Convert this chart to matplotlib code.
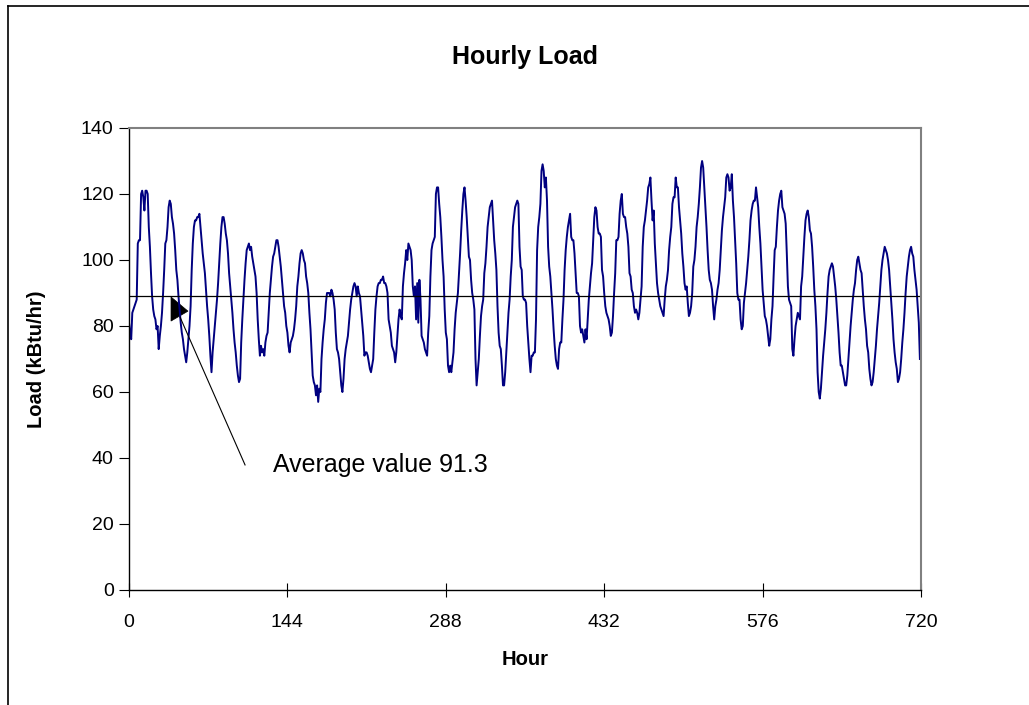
import numpy as np
import matplotlib
matplotlib.use("Agg")
import matplotlib.pyplot as plt
from matplotlib.lines import Line2D
from matplotlib.patches import Polygon

plt.rcParams['font.family'] = ['Liberation Sans', 'DejaVu Sans']

# hourly load (kBtu/hr), one row per day
day_loads = [
    [81, 78, 76, 84, 85, 86, 87, 88, 105, 106, 106, 120, 121, 119, 115, 121, 121, 120, 110, 104, 96, 89, 85, 83],
    [82, 79, 80, 73, 77, 80, 84, 90, 97, 105, 106, 110, 116, 118, 117, 113, 111, 108, 103, 97, 94, 89, 85, 81],
    [78, 76, 73, 71, 69, 72, 76, 80, 86, 97, 105, 110, 112, 112, 113, 113, 114, 110, 106, 102, 99, 96, 91, 86],
    [82, 77, 71, 66, 72, 76, 80, 84, 88, 93, 99, 105, 110, 113, 113, 111, 108, 106, 102, 96, 92, 88, 84, 79],
    [75, 72, 68, 65, 63, 64, 75, 82, 88, 94, 99, 103, 104, 105, 103, 104, 101, 99, 97, 95, 90, 82, 76, 71],
    [74, 72, 73, 71, 75, 77, 78, 84, 90, 94, 98, 101, 102, 104, 106, 106, 104, 101, 98, 94, 90, 86, 84, 80],
    [78, 74, 72, 75, 76, 77, 79, 82, 86, 92, 95, 99, 102, 103, 102, 100, 99, 95, 93, 90, 84, 79, 72, 65],
    [63, 62, 59, 62, 57, 61, 60, 70, 75, 79, 82, 87, 90, 90, 90, 89, 91, 90, 88, 85, 78, 73, 72, 70],
    [66, 62, 60, 64, 70, 73, 75, 77, 81, 85, 88, 90, 92, 93, 92, 89, 92, 90, 89, 85, 81, 77, 71, 72],
    [72, 71, 69, 67, 66, 68, 70, 78, 85, 89, 92, 93, 93, 94, 94, 95, 93, 93, 92, 90, 82, 80, 78, 74],
    [73, 72, 69, 72, 77, 82, 85, 83, 82, 92, 96, 99, 103, 100, 105, 104, 103, 100, 92, 89, 92, 82, 93, 81],
    [94, 88, 77, 76, 75, 73, 72, 71, 78, 83, 95, 103, 105, 106, 107, 120, 122, 122, 117, 113, 107, 100, 95, 85],
    [78, 76, 68, 66, 68, 66, 69, 72, 79, 84, 87, 90, 96, 102, 109, 115, 120, 122, 118, 113, 107, 101, 100, 94],
    [90, 88, 85, 70, 62, 66, 70, 77, 83, 86, 88, 96, 99, 104, 110, 113, 116, 117, 118, 112, 106, 102, 97, 86],
    [78, 74, 73, 68, 62, 62, 66, 72, 78, 84, 88, 95, 100, 110, 113, 116, 117, 118, 117, 104, 98, 97, 89, 88],
    [88, 87, 80, 75, 70, 66, 71, 71, 72, 72, 82, 103, 110, 113, 117, 127, 129, 127, 122, 125, 118, 104, 98, 95],
    [90, 85, 79, 74, 70, 68, 67, 73, 75, 75, 82, 88, 97, 103, 107, 110, 112, 114, 107, 106, 106, 102, 96, 90],
    [90, 89, 80, 78, 79, 77, 75, 79, 76, 82, 88, 92, 96, 99, 106, 113, 116, 115, 110, 108, 108, 107, 97, 95],
    [90, 86, 84, 83, 82, 80, 77, 78, 83, 90, 96, 106, 106, 107, 114, 118, 120, 114, 113, 113, 110, 108, 104, 96],
    [95, 91, 90, 86, 84, 85, 84, 82, 84, 88, 92, 104, 110, 112, 115, 118, 122, 123, 125, 118, 112, 115, 105, 99],
    [93, 90, 88, 86, 85, 84, 83, 88, 92, 94, 97, 103, 107, 110, 117, 119, 119, 125, 122, 122, 116, 112, 108, 102],
    [98, 93, 91, 92, 87, 83, 84, 86, 90, 98, 100, 104, 110, 113, 117, 122, 128, 130, 128, 122, 116, 110, 103, 97],
    [94, 93, 91, 86, 82, 86, 88, 91, 93, 97, 103, 109, 113, 116, 119, 125, 126, 125, 121, 122, 126, 118, 113, 106],
    [99, 90, 88, 88, 82, 79, 80, 87, 90, 93, 97, 101, 106, 112, 115, 117, 118, 118, 122, 119, 116, 110, 105, 98],
    [91, 87, 83, 82, 80, 77, 74, 76, 82, 86, 95, 103, 104, 110, 115, 118, 120, 121, 116, 115, 114, 111, 102, 92],
    [88, 87, 86, 73, 71, 76, 80, 82, 84, 83, 82, 92, 95, 101, 107, 112, 114, 115, 113, 109, 108, 104, 98, 91],
    [86, 79, 66, 60, 58, 61, 66, 71, 75, 79, 84, 90, 95, 97, 98, 99, 98, 95, 92, 88, 83, 78, 72, 68],
    [68, 66, 64, 62, 62, 65, 70, 75, 80, 84, 88, 91, 93, 97, 100, 101, 99, 97, 96, 91, 86, 82, 79, 74],
    [72, 67, 64, 62, 63, 66, 70, 74, 79, 83, 87, 92, 97, 100, 102, 104, 103, 102, 100, 97, 92, 87, 82, 76],
    [72, 69, 67, 63, 64, 66, 70, 75, 79, 84, 90, 95, 98, 101, 103, 104, 102, 101, 97, 94, 91, 86, 81, 70],
]
load = np.array(day_loads, dtype=float).ravel()
hours = np.arange(len(load))

avg_line = 89.1
avg_text = "Average value 91.3"
x_ticks = [0, 144, 288, 432, 576, 720]
y_ticks = [0, 20, 40, 60, 80, 100, 120, 140]

W, H = 1029, 705
fig = plt.figure(figsize=(W / 100, H / 100), dpi=100)
ax = fig.add_axes([129 / W, (H - 590) / H, 792 / W, 462 / H])

ax.plot(hours, load, color='#000080', lw=1.4)
ax.axhline(avg_line, color='black', lw=0.9)

ax.set_xlim(0, 720)
ax.set_ylim(0, 140)
ax.set_xticks(x_ticks)
ax.set_yticks(y_ticks)
ax.tick_params(axis='x', direction='inout', length=10, width=0.8, labelsize=14, pad=12)
ax.tick_params(axis='y', direction='out', length=7, width=0.8, labelsize=14, pad=4)

for s in ['left', 'bottom']:
    ax.spines[s].set_color('black')
    ax.spines[s].set_linewidth(1.0)
for s in ['top', 'right']:
    ax.spines[s].set_color('#808080')
    ax.spines[s].set_linewidth(1.5)

ax.set_xlabel('Hour', fontsize=14.5, fontweight='bold')
ax.set_ylabel('Load (kBtu/hr)', fontsize=14.5, fontweight='bold')
ax.xaxis.set_label_coords(0.5, -0.13)
ax.yaxis.set_label_coords(-0.105, 0.5)

fig.text(525 / W, 1 - 57 / H, 'Hourly Load', ha='center', va='center',
         fontsize=18, fontweight='bold')

# annotation: pointer line, odd little arrowhead and text
ax.plot([46.4, 105.5], [82.7, 37.9], color='black', lw=0.8, clip_on=False)
ax.add_patch(Polygon([[38.2, 88.8], [53.6, 84.5], [38.2, 81.5]], closed=True,
                     facecolor='black', edgecolor='black', lw=0.5))
ax.text(130.9, 37.9, avg_text, fontsize=18, ha='left', va='center')

# outer chart border (top and left only)
fig.add_artist(Line2D([8 / W, 1], [1 - 6 / H, 1 - 6 / H], color='black', lw=1.2))
fig.add_artist(Line2D([8 / W, 8 / W], [0, 1 - 6 / H], color='black', lw=1.2))

fig.savefig('out.png', dpi=100)
